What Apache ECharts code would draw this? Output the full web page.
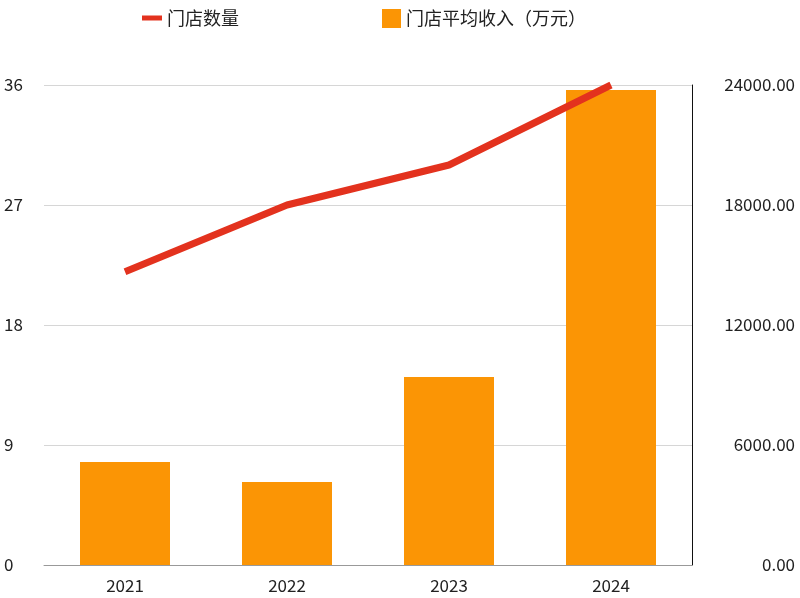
<!DOCTYPE html>
<html>
<head>
<meta charset="utf-8">
<script src="https://cdn.jsdelivr.net/npm/echarts@6/dist/echarts.min.js"></script>
<style>html,body{margin:0;padding:0;background:#fff}#chart{width:800px;height:598px}</style>
</head>
<body>
<div id="chart"></div>
<script>
const years = ['2021', '2022', '2023', '2024'];
const storeCount = [22, 27, 30, 36];
const avgRevenue = [5150, 4150, 9400, 23750];

const chart = echarts.init(document.getElementById('chart'));
const font = '"Noto Sans CJK SC", "Noto Sans", sans-serif';
const legendText = { fontSize: 18, color: '#222', fontFamily: font };
chart.setOption({
  textStyle: { fontFamily: font },
  legend: [
    {
      top: 4, left: 137, itemWidth: 20, itemHeight: 5, itemGap: 8,
      textStyle: legendText,
      data: [{ name: '门店数量', icon: 'rect', itemStyle: { color: '#e3321e' } }]
    },
    {
      top: 4, left: 377, itemWidth: 19, itemHeight: 19,
      textStyle: legendText,
      data: [{ name: '门店平均收入（万元）', icon: 'rect' }]
    }
  ],
  grid: { left: 44, right: 108, top: 85, bottom: 33 },
  xAxis: {
    type: 'category', data: years,
    axisLine: { lineStyle: { color: '#999' } },
    axisTick: { show: false },
    axisLabel: { fontSize: 17, color: '#222', margin: 12 }
  },
  yAxis: [
    {
      type: 'value', min: 0, max: 36, interval: 9,
      axisLabel: { fontSize: 17, color: '#222', align: 'left', margin: 40 },
      splitLine: { lineStyle: { color: '#d6d6d6' } }
    },
    {
      type: 'value', min: 0, max: 24000, interval: 6000,
      axisLine: { show: true, lineStyle: { color: '#111' } },
      axisLabel: { fontSize: 17, color: '#222', align: 'right', margin: 103, formatter: v => v.toFixed(2) },
      splitLine: { show: false }
    }
  ],
  series: [
    {
      name: '门店平均收入（万元）', type: 'bar', yAxisIndex: 1, data: avgRevenue,
      barWidth: 90, itemStyle: { color: '#fb9505' }
    },
    {
      name: '门店数量', type: 'line', data: storeCount, symbol: 'none',
      lineStyle: { color: '#e3321e', width: 7 }, itemStyle: { color: '#e3321e' }
    }
  ]
});
</script>
</body>
</html>
